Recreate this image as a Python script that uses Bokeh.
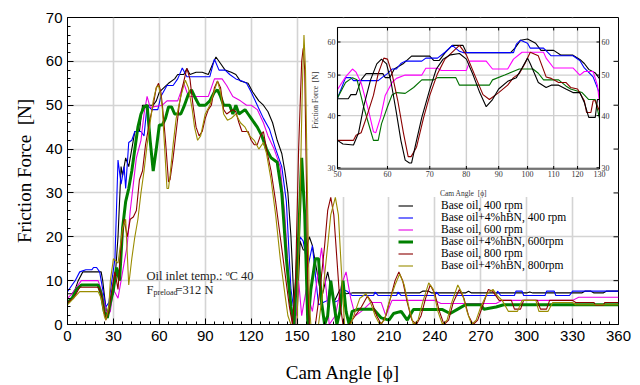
import math
from bokeh.plotting import figure
from bokeh.models import Range1d, LogScale, FixedTicker, Legend, LegendItem, Label
from bokeh.core.properties import value
from bokeh.embed import file_html
from bokeh.resources import INLINE

# ---------------- main chart data (cam angle, friction force) ----------------
black_400 = [(0,7),(3,7),(5,8),(7,10),(10,12),(22,12),(23,10),(25,4),(26,2),(28,6),(30,7),(31,10),(33,20),(35,36),(36,34),(38,38),(40,36),(42,40),(44,44),(47,44),(49,50),(56,50),(58,51),(60,53),(63,54),(66,55),(70,56),(72,57),(76,57),(78,58.4),(80,57),(84,57.5),(88,57.5),(92,57),(95,59.5),(97,61),(100,59.5),(103,58),(107,57.5),(110,57),(113,55.5),(118,55),(121,53),(125,51),(128,50),(131,48.5),(134,46),(137,42),(140,39),(142,35),(144,30),(146,20),(148,5),(150,2),(152,19),(154,17),(156,17),(158,20),(160,18),(163,12),(166,6),(170,12),(174,5),(178,8),(182,7),(186,7.2),(230,7.2),(232,7.6),(236,7.6),(238,7.2),(260,7.2),(262,7.6),(264,7.2),(300,7.2),(302,7.4),(304,7.2),(336,7.2),(338,7.6),(342,7.6),(344,7.2),(350,7.2),(352,7.6),(360,7.6)]
blue_400 = [(0,7.5),(3,9),(5,10),(8,12),(12,12.5),(16,12.5),(17,13),(19,13),(21,12),(23,8),(25,4),(27,5),(29,10),(31,15),(33,37.5),(35,32),(37,36),(38,31),(40,41.5),(42,42),(44,44),(48,44),(50,43),(52,50),(55,49),(59,49),(61,52),(65,54.5),(69,54.5),(72,56),(75,58.5),(78,56.5),(93,56.5),(96,60.5),(99,58),(103,58),(106,57),(110,56),(114,55.5),(117,55),(120,53),(124,50),(128,47),(132,44.5),(136,40),(140,36),(143,28),(146,8),(148,3),(150,12),(152,20),(154,19),(157,13),(160,18),(164,4.5),(167,5),(170,5.5),(172,10),(174,5),(177,5.5),(180,8),(183,7.5),(186,6.6),(200,6.6),(201,7.4),(203,6.6),(215,6.6),(216,7.4),(218,6.6),(240,6.6),(241,7.4),(243,6.6),(280,6.6),(281,7.6),(283,6.6),(292,6.6),(293,7.6),(297,7.6),(298,6.6),(312,6.6),(313,7.6),(318,7.6),(319,6.6),(328,6.6),(330,7.6),(360,7.6)]
magenta_600 = [(0,6),(3,7),(5,8),(9,10),(20,10),(22,8),(24,5),(26,2),(28,3),(30,8),(33,6),(35,10),(37,14),(39,18),(41,26),(43,32),(45,38),(48,42),(50,48),(52,52),(54,49.5),(62,50),(65,51),(72,51),(74,53),(76,55),(79,52),(92,52),(94,54),(96,56),(101,56),(104,54.5),(108,52),(113,51),(117,50),(120,50),(124,49),(128,46),(131,43),(135,40),(139,36),(142,25),(145,8),(147,0),(149,0),(151,10),(153,2),(156,8),(160,3),(163,10),(166,17.5),(169,8),(171,0),(175,2),(179,9),(182,12),(185,6),(188,2),(192,3),(198,5),(205,5),(208,2),(212,5.5),(240,5.5),(244,4.8),(280,4.8),(284,5.5),(330,5.5),(334,6.2),(360,6.2)]
green_600 = [(0,5),(3,6),(6,8),(9,9),(20,9),(22,7),(24,3),(26,1.5),(28,5),(30,8),(32,13),(34,10),(36,22),(38,28),(40,31),(42,35),(44,40),(46,45),(48,48),(50,49.6),(52,50),(54,42),(56,35),(58,40),(60,45.5),(62,45.5),(64,47),(66,49.6),(68,49.6),(70,48),(74,48),(76,49.6),(79,52.5),(81,53.5),(83,52),(86,50),(90,50),(93,51),(96,53),(98,53.5),(100,52),(102,50),(106,50),(108,48),(110,50),(112,48),(116,49),(118,48),(120,47),(124,45),(127,43),(130,40),(133,38),(137,37),(140,30),(143,15),(146,4),(148,0),(151,20),(153,38),(155,25),(157,0),(159,8),(162,15),(164,15),(166,5),(168,0),(170,2),(172,10),(174,5),(176,0),(178,3),(180,10),(182,3),(184,0),(186,3),(190,3.5),(200,3.5),(205,1.5),(210,1),(213,2.5),(218,3),(222,1),(226,3.4),(245,3.4),(250,2.5),(255,3.5),(260,4.5),(270,4.5),(272,3.5),(280,4),(285,4.5),(360,4.5)]
darkred_800 = [(0,5),(4,6),(8,8.5),(20,8.5),(22,7),(24,3),(25,1),(27,3),(29,8),(31,12),(33,8),(35,18),(37,24),(39,20),(41,24),(43,24.5),(45,26),(47,33),(49,35),(51,41),(54,47),(56,50),(58,54),(59.5,55),(61,53),(62,50),(64,42),(66,32.5),(67,33),(69,38),(71,44),(73,50),(75,54),(78,58.4),(80,56),(82,50),(84,45),(86,43),(88,44),(90,47),(92,49),(94,50),(96,54),(98,55.5),(100,54),(102,49),(104,48),(106,48.5),(108,49),(110,48.5),(112,46),(114,44),(118,44),(120,42),(122,41),(124,41),(126,43),(128,44),(130,40),(133,35),(136,28),(139,20),(142,12),(145,4),(147,0),(149,10),(151,40),(153,60),(154,63),(155,58),(156,35),(157,10),(158,0),(162,0),(165,8),(168,18),(170,26),(172,29),(174,25),(176,15),(178,5),(180,0),(184,0),(188,2),(192,4),(196,6.5),(199,5),(202,2),(205,0),(208,2),(211,6),(214,10),(216.5,12),(219,10),(222,5),(225,1),(228,0),(231,2),(234,6),(237,9),(240,7),(243,3),(246,0),(249,1),(252,5),(256,8),(259,6),(262,2),(265,0),(268,1),(271,4),(275,8),(278,7.5),(282,5.5),(290,5.5),(292,3.5),(296,3.5),(298,5.5),(307,5.5),(309,3.5),(313,3.5),(315,5.5),(330,5.5),(332,5),(344,5),(345,4.4),(350,4.4),(351,5),(360,5)]
olive_800 = [(0,4.5),(4,6),(8,7.5),(20,7.5),(22,6),(24,2),(25,1),(27,4),(28,10),(30,15),(33,14),(36,22),(38,24),(40,9),(42,15),(44,20),(46,24),(48,30),(50,35),(52,41),(54,46),(56,51),(58,54),(59.5,54.5),(61,52),(62,49),(63.5,40),(65,31),(66,31),(67,34),(69,41),(71,47),(74,52),(77,55.7),(79,54),(81.5,49),(83,45),(85,42),(87,43),(90,48),(93,50),(96.6,54),(98,55.5),(100,53),(102,48),(104.5,46.6),(107,47),(110,48),(113,46),(116,45),(119,43),(122,42),(125,40),(128,41.5),(130,39),(133,33),(136,25),(139,15),(142,7),(144,2),(146,0),(150,0),(152,30),(153.5,55),(154.5,66),(155.5,58),(157,25),(158,5),(159,0),(164,0),(167,8),(170,18),(172,25),(175,29),(177,25),(179,12),(181,0),(185,0),(188,3),(191,6),(195,7),(198,5),(201,2),(204,0),(207,1),(210,5),(214,9),(217,11.5),(220,9),(223,4),(226,0),(229,1),(232,5),(236,9.5),(239,8),(242,3),(245,0),(248,1),(251,5),(255,9),(258,7),(261,3),(264,0),(267,1),(270,4),(274,7),(278,8),(281,6.5),(284,5.5),(288,3),(294,3),(297,5.5),(306,5.5),(308,3),(314,3),(317,5),(330,5),(332,4.5),(360,4.5)]

# ---------------- inset data (50-130 deg, log-log) ----------------
inset_black_400 = [(50,43.9),(52,43.9),(52.5,44.9),(53.5,44.9),(54.5,48.7),(55.5,50.4),(59,50.4),(59.5,49.3),(60.5,49.3),(61.5,51.7),(63.5,53.2),(65.5,55.5),(70,55.5),(71,54.2),(72.5,54.2),(74,56.5),(76,58.9),(79,58.9),(80,56.6),(94,56.6),(95.5,58),(97.5,60.6),(100,61),(103,59.6),(105,57.3),(110,57.3),(113,55.8),(118,55.8),(121,54.5),(123,53.3),(125,51.6),(128,50.6),(130,49)]
inset_blue_400 = [(50,44),(51.5,49.3),(52.5,49.3),(53,48.5),(58,48.5),(59,49.5),(60,50.4),(61,51.7),(62,51.7),(63,53.3),(64,54),(68,54),(69,54.9),(72,54.9),(74,56.7),(76,58.9),(78,57),(79,56.6),(95,56.6),(96,59.3),(97.5,60.6),(100,59.6),(101,58),(106,58),(109,55.6),(118,55.6),(121,54.2),(123,52),(127,49.5),(130,45.2)]
inset_magenta_600 = [(50,46.2),(51.5,49.5),(52.8,51.7),(53.5,50.8),(54.5,47.9),(56,41.1),(57,36.6),(57.5,36.4),(58.5,39.6),(59.5,44.7),(61,48),(62,49.1),(64,50),(68,50),(69,51.9),(72,51.9),(73,51.3),(80,51.3),(81,54),(86,54),(88,51.7),(93,51.7),(95,54.6),(98,56.7),(106,56.7),(107,54.9),(110,52),(118,52),(121,50),(123,51),(127,51),(129,47.3),(130,43)]
inset_green_600 = [(50,44.1),(51.5,48),(52.8,49.3),(53.7,48.7),(55,42),(56.3,37.2),(57,34.9),(58,34.9),(58.7,38.2),(60,42),(61,44.8),(62,45.4),(64,45.2),(66,46.7),(68,48.7),(71,48.7),(72,49.3),(77,49.3),(78,47.3),(87,47.3),(88,48.7),(92,50),(97,51.7),(102,51.7),(104,50.5),(106,48.7),(112,48.7),(115,47.1),(117,46.3),(122,45.4),(125,43.7),(128,43.7),(130,39.4)]
inset_darkred_800 = [(50,34.9),(53,34.9),(53.5,35.9),(54.5,36.4),(55.5,39.4),(57,44.7),(58,50.4),(59.2,54.9),(60,54.6),(61,50.4),(62.3,43.4),(63.6,36.3),(64.7,31.9),(65.4,31.9),(66.7,33.6),(68.4,39.4),(70,44.7),(72,50.4),(74,54.6),(76.5,57.3),(78,58.9),(80,55.9),(82.7,49.5),(85,44.9),(87,43.7),(90,45.4),(93,47.3),(95,49.3),(97,50.4),(99,53.2),(101,56.7),(104,55.6),(107,49.5),(109,49.1),(112,48),(115,48),(117,46.7),(120,46.3),(123,43.4),(124,40.7),(126,40.7),(127,43.4),(128,43.4),(130,41)]
inset_black_800 = [(50,34.9),(51,34.2),(53,34),(54,36.4),(55,42),(56.4,48.7),(57.7,53.2),(58.7,54.6),(59.8,53.2),(60.8,48),(61.9,41.1),(63,34.9),(64,31.3),(65,30.8),(65.5,30.8),(66.5,34.2),(68,39.6),(70,46.2),(71.7,51.7),(73.5,54.6),(75.5,55.9),(78,56.3),(80,54.6),(82,50),(84,45.4),(86,42),(88,43.7),(90,46.3),(93,48.3),(96,49.3),(98,52),(100,54.9),(101,53.2),(104,48),(107,46.7),(109,47.3),(112,47.3),(115,46.3),(118,45.4),(121,45.4),(123,43),(125,39.6),(128,39.6),(129,43.7),(130,43.7)]

# ---------------- ticks / labels ----------------
x_ticks = [0, 30, 60, 90, 120, 150, 180, 210, 240, 270, 300, 330, 360]
y_ticks = [0, 10, 20, 30, 40, 50, 60, 70]
inset_x_ticks = [50, 60, 70, 80, 90, 100, 110, 120, 130]
inset_y_ticks = [30, 40, 50, 60]
labels = ["Base oil, 400 rpm", "Base oil+4%hBN, 400 rpm", "Base oil, 600 rpm",
          "Base oil+4%hBN, 600rpm", "Base oil, 800 rpm", "Base oil+4%hBN, 800rpm"]

main_series = [black_400, blue_400, magenta_600, green_600, darkred_800, olive_800]
main_colors = ["#000000", "#0000ff", "#e600e6", "#008000", "#8b0000", "#9a8c00"]
main_widths = [1.1, 1.1, 1.1, 3.0, 1.1, 1.1]

inset_series = [inset_black_400, inset_blue_400, inset_magenta_600,
                inset_green_600, inset_darkred_800, inset_black_800]
inset_colors = ["#000000", "#0000ff", "#ff00ff", "#007000", "#8b0000", "#000000"]

SERIF = "Liberation Serif"
SANS = "Liberation Sans"

# ---------------- layout geometry (pixels) ----------------
W, H = 638, 385
FR_L, FR_R, FR_T, FR_B = 67, 618, 17, 325          # main frame
IN_L, IN_R, IN_T, IN_B = 337, 599, 27, 169          # inset frame
IX0, IX1 = 50, 130                                  # inset x range
IY0, IY1 = 29.8, 65                                 # inset y range
LEG_X, LEG_ROW0, LEG_DY, LEG_H = 331, 205, 12, 14   # legend placement (px)

kx = (math.log10(IX1) - math.log10(IX0)) / (IN_R - IN_L)
ky = (math.log10(IY1) - math.log10(IY0)) / (IN_B - IN_T)
def inv_x(px):
    return 10 ** (math.log10(IX0) + (px - IN_L) * kx)
def inv_y(py):
    return 10 ** (math.log10(IY0) + (IN_B - py) * ky)

# ---------------- main figure ----------------
p = figure(width=W, height=H, x_range=Range1d(0, 360), y_range=Range1d(0, 70),
           output_backend="svg", toolbar_location=None,
           min_border_left=FR_L, min_border_right=W - FR_R,
           min_border_top=FR_T, min_border_bottom=H - FR_B)
p.background_fill_color = "white"
p.border_fill_color = "white"
p.outline_line_color = "black"
p.outline_line_alpha = 1.0
p.outline_line_width = 1

p.xaxis.ticker = FixedTicker(ticks=x_ticks, minor_ticks=[v for v in range(0, 361, 6) if v % 30])
p.yaxis.ticker = FixedTicker(ticks=y_ticks, minor_ticks=[v for v in range(0, 71, 2) if v % 10])
for ax in (p.xaxis[0], p.yaxis[0]):
    ax.axis_line_color = "black"
    ax.major_tick_in = 6
    ax.major_tick_out = 0
    ax.minor_tick_in = 3
    ax.minor_tick_out = 0
    ax.major_tick_line_color = "black"
    ax.minor_tick_line_color = "black"
    ax.major_label_text_font = SANS
    ax.major_label_text_font_size = "15px"
    ax.major_label_text_color = "black"
    ax.axis_label_text_font = SERIF
    ax.axis_label_text_font_size = "19px"
    ax.axis_label_text_font_style = "normal"
    ax.axis_label_text_color = "black"
p.xaxis.axis_label = "Cam Angle [\u03d5]"
p.yaxis.axis_label = "Friction Force\u00a0 [N]"
p.xaxis.major_label_standoff = 6
p.xaxis.axis_label_standoff = 18
p.yaxis.major_label_standoff = 5
p.yaxis.axis_label_standoff = 8

p.grid.grid_line_color = "#d4d4d4"
p.grid.grid_line_width = 1.6

renderers = []
for data, col, w in zip(main_series, main_colors, main_widths):
    xs = [d[0] for d in data]
    ys = [d[1] for d in data]
    renderers.append(p.line(xs, ys, line_color=col, line_width=w))

# one single-row legend per series, stacked 12 px apart
for i, (lab, r) in enumerate(zip(labels, renderers)):
    row_center = LEG_ROW0 + i * LEG_DY
    leg = Legend(items=[LegendItem(label=lab, renderers=[r])],
                 location=(LEG_X, int(round(FR_B - row_center - LEG_H / 2))),
                 orientation="vertical", background_fill_alpha=0, border_line_alpha=0,
                 padding=0, margin=0, spacing=0, label_height=11, glyph_height=11,
                 glyph_width=15, label_standoff=28, label_text_font=SERIF,
                 label_text_font_size="11.5px", label_text_color="black",
                 label_text_baseline="middle")
    p.add_layout(leg)

# right-hand inward ticks of the main frame
p.ray(x=[360] * (len(y_ticks) - 2), y=y_ticks[1:-1], length=5, length_units="screen",
      angle=math.pi, line_color="black", line_width=1, level="overlay")

# annotation text
note_x, note_y1, note_y2 = 51.6, 11.1, 7.9
p.add_layout(Label(x=note_x, y=note_y1, text="Oil inlet temp.: \u00baC 40", text_font=SERIF,
                   text_font_size="12.5px", text_baseline="middle", text_color="#222222"))
p.add_layout(Label(x=note_x, y=note_y2, text="F", text_font=SERIF,
                   text_font_size="12.5px", text_baseline="middle", text_color="#222222"))
p.add_layout(Label(x=note_x, y=note_y2, x_offset=7, y_offset=-3, text="preload", text_font=SERIF,
                   text_font_size="8px", text_baseline="middle", text_color="#222222"))
p.add_layout(Label(x=note_x, y=note_y2, x_offset=29, text="=312 N", text_font=SERIF,
                   text_font_size="12.5px", text_baseline="middle", text_color="#222222"))

# ---------------- inset (log-log, drawn through extra scales) ----------------
p.extra_x_ranges = {"ix": Range1d(inv_x(FR_L), inv_x(FR_R))}
p.extra_y_ranges = {"iy": Range1d(inv_y(FR_B), inv_y(FR_T))}
p.extra_x_scales = {"ix": LogScale()}
p.extra_y_scales = {"iy": LogScale()}
IK = dict(x_range_name="ix", y_range_name="iy")

# white panel that hides the main chart behind the inset
p.quad(left=[inv_x(308)], right=[inv_x(617)], bottom=[inv_y(197)], top=[inv_y(18)],
       fill_color="white", line_alpha=0, level="guide", **IK)

# inset grid
p.segment(x0=inset_x_ticks, y0=[IY0] * len(inset_x_ticks), x1=inset_x_ticks,
          y1=[IY1] * len(inset_x_ticks), line_color="#cfcfcf", line_width=1.4,
          level="annotation", **IK)
p.segment(x0=[IX0] * len(inset_y_ticks), y0=inset_y_ticks, x1=[IX1] * len(inset_y_ticks),
          y1=inset_y_ticks, line_color="#cfcfcf", line_width=1.4, level="annotation", **IK)

for data, col in zip(inset_series, inset_colors):
    xs = [d[0] for d in data]
    ys = [d[1] for d in data]
    p.line(xs, ys, line_color=col, line_width=1.1, level="annotation", **IK)

# inset frame and inward ticks
p.quad(left=[IX0], right=[IX1], bottom=[IY0], top=[IY1], fill_alpha=0,
       line_color="black", line_width=1, level="overlay", **IK)
nx, ny = len(inset_x_ticks), len(inset_y_ticks)
p.ray(x=inset_x_ticks, y=[IY0] * nx, length=3, length_units="screen", angle=math.pi / 2,
      line_color="black", level="overlay", **IK)
p.ray(x=inset_x_ticks, y=[IY1] * nx, length=3, length_units="screen", angle=-math.pi / 2,
      line_color="black", level="overlay", **IK)
p.ray(x=[IX0] * ny, y=inset_y_ticks, length=3, length_units="screen", angle=0,
      line_color="black", level="overlay", **IK)
p.ray(x=[IX1] * ny, y=inset_y_ticks, length=3, length_units="screen", angle=math.pi,
      line_color="black", level="overlay", **IK)

# inset tick labels
tick_font = dict(text_font=value(SERIF), text_font_size=value("8px"), text_color="#333333",
                 level="overlay")
p.text(x=inset_x_ticks, y=[inv_y(IN_B + 2)] * nx, text=[str(v) for v in inset_x_ticks],
       text_align="center", text_baseline="top", **tick_font, **IK)
p.text(x=[inv_x(IN_L - 2)] * ny, y=inset_y_ticks, text=[str(v) for v in inset_y_ticks],
       text_align="right", text_baseline="middle", **tick_font, **IK)
p.text(x=[inv_x(IN_R + 2)] * ny, y=inset_y_ticks, text=[str(v) for v in inset_y_ticks],
       text_align="left", text_baseline="middle", **tick_font, **IK)
# inset axis titles
p.text(x=[inv_x(463)], y=[inv_y(194)], text=["Cam Angle\u00a0 [\u03d5]"],
       text_align="center", text_baseline="middle", text_font=value(SERIF),
       text_font_size=value("7.5px"), text_color="#333333", level="overlay", **IK)
p.text(x=[inv_x(315)], y=[inv_y(100)], text=["Friction Force\u00a0 [N]"], angle=math.pi / 2,
       text_align="center", text_baseline="middle", text_font=value(SERIF),
       text_font_size=value("7.5px"), text_color="#333333", level="overlay", **IK)

open("out.html", "w").write(file_html(p, INLINE))
